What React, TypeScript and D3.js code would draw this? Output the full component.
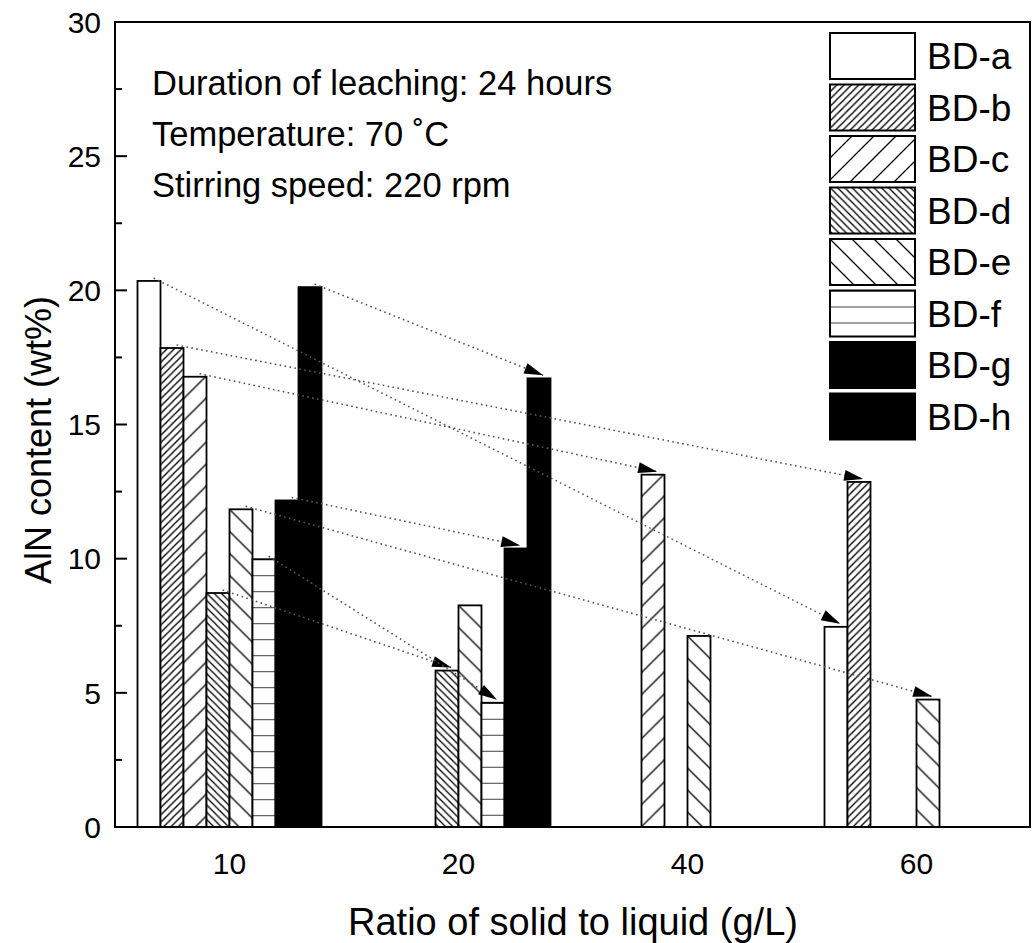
import React from 'react';
import * as d3 from 'd3';

// Solid-to-liquid ratios (g/L) on the category axis
const ratios = ['10', '20', '40', '60'];
// Samples
const samples = ['BD-a', 'BD-b', 'BD-c', 'BD-d', 'BD-e', 'BD-f', 'BD-g', 'BD-h'];
// Fill style of each sample
const hatches = ['open', 'dense-up', 'sparse-up', 'dense-down', 'sparse-down', 'horizontal', 'solid', 'solid'];

// AlN content (wt%) per ratio, null where the sample was not leached at that ratio
const bdA = [20.35, null, null, 7.46];
const bdB = [17.85, null, null, 12.86];
const bdC = [16.78, null, 13.13, null];
const bdD = [8.72, 5.83, null, null];
const bdE = [11.84, 8.26, 7.12, 4.75];
const bdF = [9.98, 4.63, null, null];
const bdG = [12.17, 10.38, null, null];
const bdH = [20.12, 16.72, null, null];
const sampleValues = [bdA, bdB, bdC, bdD, bdE, bdF, bdG, bdH];

// Transfers drawn as dotted arrows: sample, from ratio, to ratio
const transferSample = ['BD-a', 'BD-b', 'BD-c', 'BD-d', 'BD-e', 'BD-f', 'BD-g', 'BD-h'];
const transferFrom = ['10', '10', '10', '10', '10', '10', '10', '10'];
const transferTo = ['60', '60', '40', '20', '60', '20', '20', '20'];

const yTicks = [0, 5, 10, 15, 20, 25, 30];
const yMinorTicks = [2.5, 7.5, 12.5, 17.5, 22.5, 27.5];

const conditions = [
  'Duration of leaching: 24 hours',
  'Temperature: 70 \u02DAC',
  'Stirring speed: 220 rpm',
];

const W = 1033;
const H = 943;
const M = { left: 115, right: 1030, top: 22, bottom: 827 };
const FONT = '"Liberation Sans", Arial, sans-serif';
const BAR_W = 23;

function Hatch({ id, kind, x, y }: { id: string; kind: string; x: number; y: number }) {
  if (kind === 'dense-up' || kind === 'sparse-up') {
    const p = kind === 'dense-up' ? 7.3 : 22;
    return (
      <pattern id={id} patternUnits="userSpaceOnUse" x={x} y={y} width={p} height={p}>
        <rect width={p} height={p} fill="#fff" />
        <path
          d={`M0,${p} L${p},0 M-1,1 L1,-1 M${p - 1},${p + 1} L${p + 1},${p - 1}`}
          stroke="#000"
          strokeWidth={1.3}
        />
      </pattern>
    );
  }
  if (kind === 'dense-down' || kind === 'sparse-down') {
    const p = kind === 'dense-down' ? 7.3 : 22;
    return (
      <pattern id={id} patternUnits="userSpaceOnUse" x={x} y={y} width={p} height={p}>
        <rect width={p} height={p} fill="#fff" />
        <path
          d={`M0,0 L${p},${p} M-1,${p - 1} L1,${p + 1} M${p - 1},-1 L${p + 1},1`}
          stroke="#000"
          strokeWidth={1.3}
        />
      </pattern>
    );
  }
  if (kind === 'horizontal') {
    return (
      <pattern id={id} patternUnits="userSpaceOnUse" x={x} y={y} width={40} height={16}>
        <rect width={40} height={16} fill="#fff" />
        <path d="M0,0 H40" stroke="#000" strokeWidth={1.6} />
      </pattern>
    );
  }
  return null;
}

function fillFor(kind: string, id: string) {
  if (kind === 'solid') return '#000';
  if (kind === 'open') return '#fff';
  return `url(#${id})`;
}

export default function App() {
  const x0 = d3.scaleBand<string>().domain(ratios).range([M.left, M.right + 1]).padding(0);
  const groupW = BAR_W * samples.length;
  const x1 = d3.scaleBand<string>().domain(samples).range([0, groupW]).padding(0);
  const y = d3.scaleLinear().domain([0, 30]).range([M.bottom, M.top]);

  const barX = (r: string, s: string) => (x0(r) as number) + (x0.bandwidth() - groupW) / 2 + (x1(s) as number);

  const bars: { key: string; s: string; r: string; v: number; kind: string }[] = [];
  samples.forEach((s, i) => {
    sampleValues[i].forEach((v, j) => {
      if (v != null) bars.push({ key: `${s}-${ratios[j]}`, s, r: ratios[j], v, kind: hatches[i] });
    });
  });

  const valueOf = (s: string, r: string) => sampleValues[samples.indexOf(s)][ratios.indexOf(r)] as number;

  const arrows = transferSample.map((s, i) => {
    const from = transferFrom[i];
    const to = transferTo[i];
    return {
      key: `${s}-${from}-${to}`,
      x1: barX(from, s) + 0.7 * BAR_W,
      y1: y(valueOf(s, from)) - 3,
      x2: barX(to, s) + 0.68 * BAR_W,
      y2: y(valueOf(s, to)) - 3,
    };
  });

  const legendX = 830;
  const legendY = 33;
  const legendStep = 51.5;
  const legendBoxW = 85;
  const legendBoxH = 46;

  return (
    <svg
      width={W}
      height={H}
      viewBox={`0 0 ${W} ${H}`}
      style={{ position: 'absolute', left: 0, top: 0, background: '#fff' }}
      fontFamily={FONT}
    >
      <defs>
        {bars.map((b) => (
          <Hatch key={b.key} id={`h-${b.key}`} kind={b.kind} x={barX(b.r, b.s)} y={y(b.v)} />
        ))}
        {samples.map((s, i) => (
          <Hatch
            key={s}
            id={`lg-${s}`}
            kind={hatches[i]}
            x={legendX}
            y={legendY + i * legendStep}
          />
        ))}
        <marker
          id="arrowhead"
          markerUnits="userSpaceOnUse"
          markerWidth={22}
          markerHeight={14}
          viewBox="-20 -7 22 14"
          refX={0}
          refY={0}
          orient="auto"
          overflow="visible"
        >
          <path d="M0,0 L-19,-5.5 L-19,5.5 Z" fill="#000" />
        </marker>
      </defs>

      <rect x={0} y={0} width={W} height={H} fill="#fff" />

      {/* bars */}
      {bars.map((b) => (
        <rect
          key={b.key}
          x={barX(b.r, b.s)}
          y={y(b.v)}
          width={BAR_W}
          height={y(0) - y(b.v)}
          fill={fillFor(b.kind, `h-${b.key}`)}
          stroke="#000"
          strokeWidth={1.8}
        />
      ))}

      {/* dotted transfer arrows */}
      {arrows.map((a) => (
        <line
          key={a.key}
          x1={a.x1}
          y1={a.y1}
          x2={a.x2}
          y2={a.y2}
          stroke="#555"
          strokeWidth={1.6}
          strokeDasharray="1.6 3.4"
          markerEnd="url(#arrowhead)"
        />
      ))}

      {/* frame */}
      <rect
        x={M.left}
        y={M.top}
        width={M.right - M.left}
        height={M.bottom - M.top}
        fill="none"
        stroke="#000"
        strokeWidth={2}
      />

      {/* y axis ticks */}
      {yTicks.map((t) => (
        <g key={`yt-${t}`}>
          <line x1={M.left} x2={M.left + 12} y1={y(t)} y2={y(t)} stroke="#000" strokeWidth={2} />
          <text x={101} y={y(t)} dy="0.36em" textAnchor="end" fontSize={30}>
            {t}
          </text>
        </g>
      ))}
      {yMinorTicks.map((t) => (
        <line key={`ym-${t}`} x1={M.left} x2={M.left + 7} y1={y(t)} y2={y(t)} stroke="#000" strokeWidth={2} />
      ))}

      {/* x tick labels */}
      {ratios.map((r) => (
        <text key={`xt-${r}`} x={(x0(r) as number) + x0.bandwidth() / 2} y={874} textAnchor="middle" fontSize={30}>
          {r}
        </text>
      ))}

      {/* axis titles */}
      <text x={573} y={935} textAnchor="middle" fontSize={38}>
        Ratio of solid to liquid (g/L)
      </text>
      <text transform="translate(51,440) rotate(-90)" textAnchor="middle" fontSize={36}>
        AlN content (wt%)
      </text>

      {/* leaching conditions */}
      {conditions.map((c, i) => (
        <text key={c} x={152} y={95 + i * 51} fontSize={34.5}>
          {c}
        </text>
      ))}

      {/* legend */}
      {samples.map((s, i) => (
        <g key={`lg-${s}`}>
          <rect
            x={legendX}
            y={legendY + i * legendStep}
            width={legendBoxW}
            height={legendBoxH}
            fill={fillFor(hatches[i], `lg-${s}`)}
            stroke="#000"
            strokeWidth={2}
          />
          <text x={927} y={legendY + i * legendStep + legendBoxH / 2} dy="0.36em" fontSize={37}>
            {s}
          </text>
        </g>
      ))}
    </svg>
  );
}
